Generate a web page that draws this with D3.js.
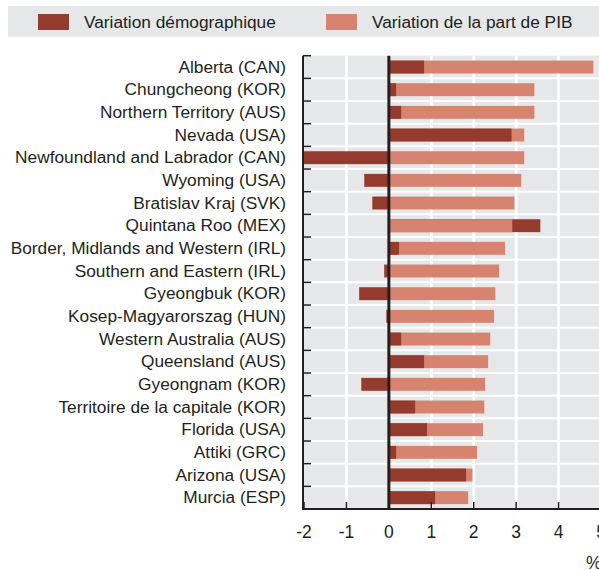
<!DOCTYPE html>
<html>
    <head>
        <meta charset="utf-8">
        <script type="text/javascript" src="https://cdn.jsdelivr.net/npm/d3@7"></script>
        <style type="text/css">
            body { margin: 0; background: #ffffff; }
            svg text { font-family: "Liberation Sans", Arial, sans-serif; fill: #231f20; }
        </style>
    </head>
    <body>
        <div id='chartholder'></div>

        <script type="text/javascript">

            var regions = [
                'Alberta (CAN)', 'Chungcheong (KOR)', 'Northern Territory (AUS)', 'Nevada (USA)',
                'Newfoundland and Labrador (CAN)', 'Wyoming (USA)', 'Bratislav Kraj (SVK)', 'Quintana Roo (MEX)',
                'Border, Midlands and Western (IRL)', 'Southern and Eastern (IRL)', 'Gyeongbuk (KOR)',
                'Kosep-Magyarorszag (HUN)', 'Western Australia (AUS)', 'Queensland (AUS)', 'Gyeongnam (KOR)',
                'Territoire de la capitale (KOR)', 'Florida (USA)', 'Attiki (GRC)', 'Arizona (USA)', 'Murcia (ESP)'
            ];
            var demographic = [0.83, 0.17, 0.29, 2.89, -2.0, -0.58, -0.39, 3.57, 0.24, -0.11,
                               -0.70, -0.06, 0.29, 0.83, -0.65, 0.62, 0.90, 0.17, 1.82, 1.09];
            var gdpShare = [4.82, 3.43, 3.43, 3.19, 3.19, 3.12, 2.96, 2.91, 2.74, 2.60,
                            2.51, 2.48, 2.39, 2.34, 2.27, 2.25, 2.22, 2.08, 1.97, 1.87];
            var xTicks = [-2, -1, 0, 1, 2, 3, 4, 5];
            var seriesNames = ['Variation démographique', 'Variation de la part de PIB'];
            var colors = ['#943b2e', '#d6836f'];

            var width = 599, height = 570;
            var plot = {left: 303, top: 55.7, bottom: 509};

            var svg = d3.select('#chartholder').append('svg')
                .attr('width', width)
                .attr('height', height);

            // legend
            svg.append('rect')
                .attr('x', 8).attr('y', 6).attr('width', width - 8).attr('height', 30.7)
                .attr('fill', '#e6e7e8');
            var legendX = [38, 326];
            seriesNames.forEach(function(name, i) {
                svg.append('rect')
                    .attr('x', legendX[i]).attr('y', 14).attr('width', 31).attr('height', 16)
                    .attr('fill', colors[i]);
                svg.append('text')
                    .attr('x', legendX[i] + 46).attr('y', 28.3)
                    .style('font-size', '17.3px')
                    .text(name);
            });

            var xScale = d3.scaleLinear()
                .domain([-2, 5])
                .range([304, 601]);

            var yScale = d3.scaleBand()
                .domain(regions)
                .range([plot.top, plot.bottom])
                .paddingInner(0.43)
                .paddingOuter(0.215);

            var rowTop = function(i) { return plot.top + i * (plot.bottom - plot.top) / regions.length; };

            // plot background
            svg.append('rect')
                .attr('x', plot.left).attr('y', plot.top)
                .attr('width', width - plot.left).attr('height', plot.bottom - plot.top)
                .attr('fill', '#e6e7e8');

            // vertical gridlines
            svg.append('g').selectAll('line')
                .data(xTicks.filter(function(d) { return d !== 0 && d !== -2; }))
                .enter().append('line')
                    .attr('x1', function(d) { return xScale(d); })
                    .attr('x2', function(d) { return xScale(d); })
                    .attr('y1', plot.top).attr('y2', plot.bottom)
                    .attr('stroke', '#ffffff').attr('stroke-width', 2.7);

            // horizontal gridlines between rows
            svg.append('g').selectAll('line')
                .data(d3.range(1, regions.length))
                .enter().append('line')
                    .attr('x1', plot.left).attr('x2', width)
                    .attr('y1', function(i) { return rowTop(i); })
                    .attr('y2', function(i) { return rowTop(i); })
                    .attr('stroke', '#ffffff').attr('stroke-width', 2);

            // bars: longer bar drawn first, shorter on top
            var rows = regions.map(function(r, i) {
                return {region: r, values: [demographic[i], gdpShare[i]]};
            });
            var barGroup = svg.append('g');
            rows.forEach(function(row) {
                var order = [0, 1].sort(function(a, b) {
                    return Math.abs(row.values[b]) - Math.abs(row.values[a]);
                });
                order.forEach(function(s) {
                    var v = row.values[s];
                    barGroup.append('rect')
                        .attr('x', xScale(Math.min(0, v)))
                        .attr('y', yScale(row.region))
                        .attr('width', Math.abs(xScale(v) - xScale(0)))
                        .attr('height', yScale.bandwidth())
                        .attr('fill', colors[s]);
                });
            });

            // zero line
            svg.append('line')
                .attr('x1', xScale(0)).attr('x2', xScale(0))
                .attr('y1', plot.top).attr('y2', plot.bottom)
                .attr('stroke', '#231f20').attr('stroke-width', 3);

            // left axis
            svg.append('line')
                .attr('x1', plot.left).attr('x2', plot.left)
                .attr('y1', plot.top).attr('y2', plot.bottom + 1)
                .attr('stroke', '#231f20').attr('stroke-width', 2);
            svg.append('g').selectAll('line')
                .data(d3.range(0, regions.length))
                .enter().append('line')
                    .attr('x1', plot.left).attr('x2', plot.left + 8)
                    .attr('y1', function(i) { return rowTop(i); })
                    .attr('y2', function(i) { return rowTop(i); })
                    .attr('stroke', '#231f20').attr('stroke-width', 1.5);

            svg.append('g').selectAll('text')
                .data(regions)
                .enter().append('text')
                    .attr('x', 286)
                    .attr('y', function(d) { return yScale(d) + yScale.bandwidth() / 2; })
                    .attr('dy', '0.33em')
                    .attr('text-anchor', 'end')
                    .style('font-size', '17.3px')
                    .text(function(d) { return d; });

            // bottom axis
            svg.append('line')
                .attr('x1', plot.left - 1).attr('x2', width)
                .attr('y1', plot.bottom).attr('y2', plot.bottom)
                .attr('stroke', '#231f20').attr('stroke-width', 2);
            svg.append('g').selectAll('line')
                .data(xTicks)
                .enter().append('line')
                    .attr('x1', function(d) { return xScale(d); })
                    .attr('x2', function(d) { return xScale(d); })
                    .attr('y1', plot.bottom - 7).attr('y2', plot.bottom)
                    .attr('stroke', '#231f20').attr('stroke-width', 1.5);
            svg.append('g').selectAll('text')
                .data(xTicks)
                .enter().append('text')
                    .attr('x', function(d) { return xScale(d); })
                    .attr('y', 538)
                    .attr('text-anchor', 'middle')
                    .style('font-size', '17.5px')
                    .text(function(d) { return d; });

            svg.append('text')
                .attr('x', 586).attr('y', 569)
                .style('font-size', '17.5px')
                .text('%');

        </script>
    </body>
</html>
